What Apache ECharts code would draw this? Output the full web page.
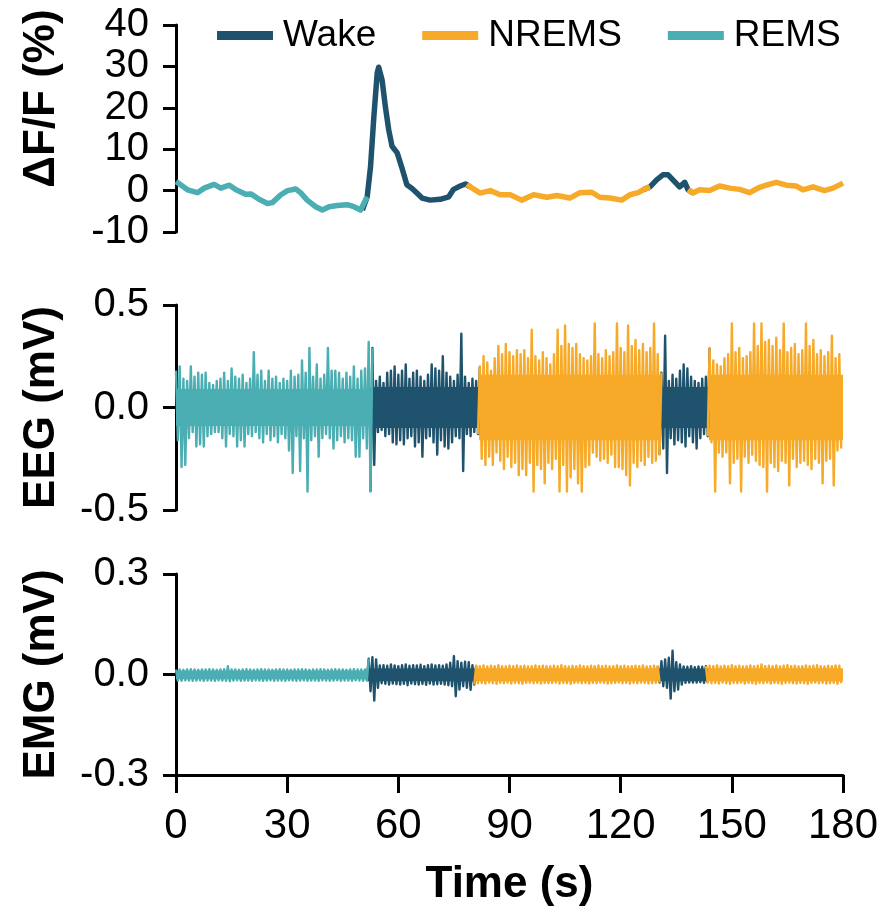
<!DOCTYPE html>
<html><head><meta charset="utf-8">
<script src="https://cdn.jsdelivr.net/npm/echarts@6/dist/echarts.min.js"></script>
<style>html,body{margin:0;padding:0;background:#fff}#c{width:884px;height:908px}</style>
</head><body><div id="c"></div>
<script>
// ---- Data ----
const stateNames = ['Wake', 'NREMS', 'REMS'];
const stateColors = {Wake: '#1f536d', NREMS: '#f7a928', REMS: '#4aaeb2'};
const xTicks = [0, 30, 60, 90, 120, 150, 180];

// ΔF/F (%) trace
const dffTime = [0,3.1,5.8,7.6,10.3,12.1,14.4,16.2,18.8,20.2,22.4,24.7,26.0,28.3,30.1,32.3,33.6,35.4,37.7,39.5,41.3,43.5,46.2,48.0,49.8,50.3,
  51.6,52.5,53.4,54.3,54.7,55.6,56.5,57.4,58.3,59.7,61.0,62.3,63.7,65.0,66.4,68.6,71.3,73.6,74.9,76.7,78.1,78.5,
  79.4,82.1,84.8,87.5,90.2,93.3,96.5,100.1,102.8,106.3,109.0,112.2,114.4,117.1,120.3,122.5,124.7,126.1,
  127.9,129.7,131.4,132.8,134.1,135.9,137.3,138.2,
  139.5,141.3,144.0,146.7,149.4,152.1,154.8,157.5,159.3,162.0,164.7,167.4,169.2,171.9,175.0,177.3,180.0];
const dffValue = [2.2,0.2,-0.5,0.6,1.5,0.6,1.3,0.2,-0.9,-0.8,-2.1,-3.1,-2.9,-1.0,0,0.4,-0.5,-2.3,-3.9,-4.7,-3.9,-3.6,-3.4,-3.9,-4.7,-4.7,
  -1.5,5.8,17.9,28.4,29.8,26.8,20.3,14.7,10.7,9.1,5.4,1.4,0.5,-0.6,-1.8,-2.3,-2.1,-1.5,0.3,1.1,1.6,1.5,
  0.9,-0.6,0,-1.0,-1.0,-2.3,-1.0,-1.6,-1.2,-1.8,-0.5,-0.4,-1.6,-1.8,-2.3,-1.0,-0.5,0.2,
  0.9,2.6,3.8,3.8,2.6,0.9,2.0,0.2,
  -0.6,0.2,0,1.1,0.6,0.3,-0.5,0.8,1.3,2.0,1.3,1.1,0.2,0.9,0,0.6,1.8];
const dffBounds = [50.3, 78.5, 126.1, 138.2];
const dffStates = ['REMS', 'Wake', 'NREMS', 'Wake', 'NREMS'];

// EEG (mV): per-second upper and lower excursions, t = 0..179 s
const eegHi = [0.18,0.20,0.14,0.13,0.20,0.15,0.17,0.16,0.17,0.12,0.11,0.13,0.14,0.17,0.13,0.19,0.15,0.14,0.16,0.12,
  0.14,0.27,0.16,0.18,0.13,0.18,0.14,0.15,0.12,0.14,0.13,0.18,0.15,0.16,0.23,0.17,0.29,0.15,0.21,0.14,
  0.16,0.29,0.18,0.18,0.17,0.14,0.17,0.15,0.20,0.14,0.18,0.19,0.32,0.29,0.13,0.15,0.12,0.17,0.18,0.20,
  0.16,0.18,0.21,0.14,0.17,0.18,0.15,0.13,0.16,0.21,0.19,0.18,0.25,0.17,0.15,0.13,0.16,0.36,0.15,0.12,
  0.14,0.13,0.20,0.25,0.22,0.18,0.24,0.30,0.26,0.31,0.27,0.25,0.28,0.26,0.28,0.24,0.38,0.25,0.23,0.27,
  0.24,0.21,0.26,0.38,0.30,0.40,0.31,0.29,0.31,0.26,0.24,0.23,0.25,0.41,0.26,0.24,0.28,0.25,0.27,0.41,
  0.29,0.27,0.40,0.30,0.33,0.28,0.31,0.27,0.29,0.41,0.26,0.17,0.35,0.13,0.16,0.14,0.18,0.21,0.19,0.15,
  0.13,0.12,0.14,0.15,0.29,0.23,0.21,0.20,0.24,0.26,0.41,0.27,0.29,0.24,0.25,0.27,0.41,0.30,0.41,0.32,
  0.33,0.30,0.34,0.28,0.41,0.27,0.29,0.31,0.26,0.28,0.41,0.30,0.33,0.26,0.28,0.25,0.27,0.35,0.24,0.26];
const eegLo = [-0.16,-0.29,-0.28,-0.15,-0.12,-0.19,-0.18,-0.19,-0.14,-0.13,-0.12,-0.12,-0.15,-0.19,-0.13,-0.14,-0.19,-0.16,-0.19,-0.13,
  -0.14,-0.12,-0.15,-0.17,-0.13,-0.16,-0.14,-0.17,-0.13,-0.15,-0.21,-0.32,-0.14,-0.31,-0.15,-0.41,-0.16,-0.14,-0.24,-0.15,
  -0.13,-0.15,-0.20,-0.16,-0.14,-0.17,-0.15,-0.16,-0.24,-0.24,-0.15,-0.20,-0.41,-0.28,-0.12,-0.11,-0.14,-0.13,-0.17,-0.18,
  -0.16,-0.18,-0.15,-0.14,-0.19,-0.17,-0.24,-0.15,-0.14,-0.17,-0.23,-0.16,-0.19,-0.20,-0.17,-0.14,-0.15,-0.31,-0.13,-0.14,
  -0.12,-0.13,-0.25,-0.28,-0.24,-0.28,-0.22,-0.26,-0.30,-0.24,-0.29,-0.27,-0.33,-0.30,-0.33,-0.27,-0.41,-0.28,-0.30,-0.37,
  -0.27,-0.30,-0.25,-0.41,-0.28,-0.41,-0.34,-0.30,-0.37,-0.41,-0.29,-0.28,-0.22,-0.24,-0.26,-0.25,-0.27,-0.23,-0.29,-0.29,
  -0.30,-0.33,-0.38,-0.27,-0.29,-0.26,-0.28,-0.24,-0.27,-0.26,-0.23,-0.20,-0.32,-0.15,-0.18,-0.16,-0.17,-0.19,-0.14,-0.17,
  -0.20,-0.15,-0.13,-0.14,-0.17,-0.41,-0.22,-0.24,-0.22,-0.37,-0.27,-0.25,-0.41,-0.24,-0.27,-0.23,-0.26,-0.28,-0.29,-0.41,
  -0.27,-0.29,-0.31,-0.26,-0.27,-0.38,-0.25,-0.29,-0.27,-0.26,-0.28,-0.30,-0.25,-0.27,-0.37,-0.26,-0.25,-0.38,-0.21,-0.20];
const eegBounds = [52.5, 81.8, 130.8, 143.8];

// EMG (mV): per-second upper and lower excursions, t = 0..179 s
const emgHi = [0.015,0.015,0.014,0.015,0.016,0.015,0.014,0.015,0.015,0.016,0.015,0.014,0.015,0.016,0.025,0.015,0.015,0.014,0.015,0.016,
  0.015,0.014,0.015,0.016,0.015,0.015,0.014,0.015,0.016,0.015,0.015,0.014,0.015,0.015,0.016,0.015,0.014,0.015,0.015,0.016,
  0.015,0.014,0.015,0.016,0.015,0.015,0.014,0.015,0.016,0.015,0.015,0.015,0.047,0.052,0.045,0.027,0.028,0.026,0.030,0.027,
  0.025,0.028,0.030,0.026,0.028,0.027,0.029,0.025,0.028,0.030,0.027,0.028,0.026,0.030,0.035,0.055,0.040,0.035,0.038,0.037,
  0.028,0.026,0.025,0.027,0.024,0.026,0.025,0.028,0.025,0.024,0.026,0.025,0.027,0.025,0.026,0.024,0.025,0.027,0.025,0.026,
  0.025,0.024,0.026,0.025,0.028,0.025,0.024,0.026,0.025,0.027,0.025,0.024,0.026,0.025,0.027,0.025,0.026,0.024,0.025,0.027,
  0.025,0.026,0.024,0.025,0.026,0.025,0.027,0.024,0.025,0.026,0.025,0.040,0.045,0.050,0.071,0.037,0.030,0.024,0.023,0.025,
  0.022,0.024,0.023,0.025,0.026,0.025,0.027,0.024,0.026,0.025,0.028,0.025,0.026,0.024,0.025,0.027,0.025,0.026,0.030,0.025,
  0.026,0.025,0.027,0.024,0.026,0.028,0.025,0.026,0.024,0.025,0.027,0.025,0.026,0.028,0.025,0.024,0.026,0.025,0.027,0.026];
const emgLo = [-0.018,-0.019,-0.017,-0.018,-0.019,-0.018,-0.017,-0.019,-0.018,-0.018,-0.019,-0.017,-0.018,-0.019,-0.020,-0.018,-0.017,-0.019,-0.018,-0.018,
  -0.019,-0.017,-0.018,-0.019,-0.018,-0.017,-0.019,-0.018,-0.018,-0.019,-0.017,-0.018,-0.019,-0.018,-0.017,-0.019,-0.018,-0.018,-0.019,-0.017,
  -0.018,-0.019,-0.018,-0.017,-0.019,-0.018,-0.018,-0.019,-0.017,-0.018,-0.019,-0.018,-0.050,-0.078,-0.040,-0.026,-0.028,-0.030,-0.027,-0.029,
  -0.030,-0.028,-0.032,-0.027,-0.029,-0.030,-0.028,-0.031,-0.027,-0.030,-0.029,-0.028,-0.030,-0.032,-0.035,-0.065,-0.045,-0.035,-0.040,-0.046,
  -0.030,-0.026,-0.025,-0.027,-0.024,-0.026,-0.028,-0.025,-0.026,-0.024,-0.027,-0.025,-0.026,-0.028,-0.025,-0.024,-0.026,-0.025,-0.027,-0.025,
  -0.026,-0.025,-0.024,-0.027,-0.025,-0.026,-0.028,-0.025,-0.024,-0.026,-0.025,-0.027,-0.025,-0.026,-0.024,-0.025,-0.027,-0.026,-0.025,-0.024,
  -0.026,-0.025,-0.027,-0.025,-0.026,-0.024,-0.025,-0.027,-0.026,-0.025,-0.024,-0.035,-0.040,-0.072,-0.050,-0.045,-0.030,-0.025,-0.024,-0.024,
  -0.024,-0.023,-0.025,-0.024,-0.026,-0.025,-0.027,-0.024,-0.026,-0.028,-0.025,-0.026,-0.024,-0.027,-0.025,-0.026,-0.028,-0.025,-0.026,-0.024,
  -0.027,-0.025,-0.026,-0.028,-0.025,-0.024,-0.026,-0.027,-0.025,-0.026,-0.028,-0.025,-0.024,-0.026,-0.025,-0.027,-0.026,-0.025,-0.028,-0.026];
const emgBounds = [51.6, 80.8, 130.3, 143.1];
const ephysStates = ['REMS', 'Wake', 'NREMS', 'Wake', 'NREMS'];

// Dense core band per state segment (mV)
const eegCoreHi = [0.09, 0.10, 0.16, 0.10, 0.16];
const eegCoreLo = [-0.09, -0.10, -0.16, -0.10, -0.16];
const emgCoreHi = [0.012, 0.018, 0.019, 0.018, 0.019];
const emgCoreLo = [-0.014, -0.020, -0.020, -0.020, -0.020];

// ---- Build ----
function zigzag(hi, lo) {
  const t = [], v = [];
  for (let i = 0; i < hi.length; i++) { t.push(i); v.push(hi[i]); t.push(i + 0.5); v.push(lo[i]); }
  return [t, v];
}
function splitStates(ts, vs, bounds, states) {
  const out = {Wake: [], NREMS: [], REMS: []};
  let seg = 0;
  for (let i = 0; i < ts.length; i++) {
    while (seg < bounds.length && ts[i] > bounds[seg]) {
      out[states[seg]].push([ts[i], vs[i]]);
      out[states[seg]].push([ts[i], null]);
      seg++;
      if (i > 0) out[states[seg]].push([ts[i - 1], vs[i - 1]]);
    }
    out[states[seg]].push([ts[i], vs[i]]);
  }
  return out;
}
const FONT = '"Liberation Sans", Arial, Helvetica, sans-serif';
const series = [];
function addSeries(parts, idx, width) {
  stateNames.forEach(n => {
    series.push({
      name: n, type: 'line', xAxisIndex: idx, yAxisIndex: idx, data: parts[n],
      symbol: 'none', showSymbol: false, connectNulls: false, animation: false, silent: true,
      clip: true, z: 2,
      itemStyle: {color: stateColors[n]},
      lineStyle: {color: stateColors[n], width: width, join: 'round', cap: 'butt'}
    });
  });
}
function addCore(idx, bounds, coreHi, coreLo) {
  const edges = [0].concat(bounds, [180]);
  ephysStates.forEach((s, k) => {
    series.push({
      name: s, type: 'line', xAxisIndex: idx, yAxisIndex: idx, symbol: 'none', silent: true, animation: false,
      data: [[edges[k], coreHi[k]], [edges[k + 1], coreHi[k]]],
      lineStyle: {width: 0, color: stateColors[s]}, itemStyle: {color: stateColors[s]},
      areaStyle: {color: stateColors[s], opacity: 1, origin: coreLo[k]}, z: 1
    });
  });
}
addSeries(splitStates(dffTime, dffValue, dffBounds, dffStates), 0, 5.5);
const eeg = zigzag(eegHi, eegLo);
addSeries(splitStates(eeg[0], eeg[1], eegBounds, ephysStates), 1, 2.4);
addCore(1, eegBounds, eegCoreHi, eegCoreLo);
const emg = zigzag(emgHi, emgLo);
addSeries(splitStates(emg[0], emg[1], emgBounds, ephysStates), 2, 2.4);
addCore(2, emgBounds, emgCoreHi, emgCoreLo);

const axisLineStyle = {color: '#000', width: 3};
function yAxis(idx, min, max, interval, name, dec, namePad) {
  return {
    type: 'value', gridIndex: idx, min: min, max: max, interval: interval,
    name: name, nameLocation: 'middle', nameGap: 112, nameRotate: 90,
    nameTextStyle: {fontFamily: FONT, fontWeight: 'bold', fontSize: 44, color: '#000', padding: namePad},
    axisLine: {show: true, onZero: false, lineStyle: axisLineStyle},
    axisTick: {show: true, inside: false, length: 13, lineStyle: axisLineStyle},
    axisLabel: {fontFamily: FONT, fontSize: 40, color: '#000', margin: 27,
      formatter: v => dec ? v.toFixed(dec) : String(v)},
    splitLine: {show: false}
  };
}
function xAxis(idx, show) {
  return {
    type: 'value', gridIndex: idx, min: 0, max: 180, interval: 30, show: show,
    name: show ? 'Time (s)' : '', nameLocation: 'middle', nameGap: 88,
    nameTextStyle: {fontFamily: FONT, fontWeight: 'bold', fontSize: 44, color: '#000'},
    axisLine: {show: true, onZero: false, lineStyle: axisLineStyle},
    axisTick: {show: true, inside: false, length: 18, lineStyle: axisLineStyle},
    axisLabel: {fontFamily: FONT, fontSize: 42, color: '#000', margin: 30},
    splitLine: {show: false}
  };
}
const chart = echarts.init(document.getElementById('c'), null, {renderer: 'canvas'});
chart.setOption({
  backgroundColor: '#fff',
  animation: false,
  legend: {
    data: stateNames, left: 212, top: 12, icon: 'rect', itemWidth: 56, itemHeight: 9, itemGap: 46,
    textStyle: {fontFamily: FONT, fontSize: 37, color: '#000', padding: [0, 0, 0, 5]}
  },
  grid: [
    {left: 176, width: 667, top: 25, height: 207},
    {left: 176, width: 667, top: 305, height: 205},
    {left: 176, width: 667, top: 574, height: 206}
  ],
  xAxis: [xAxis(0, false), xAxis(1, false), xAxis(2, true)],
  yAxis: [
    yAxis(0, -10, 40, 10, 'ΔF/F (%)', 0, [0, 0, 0, 60]),
    yAxis(1, -0.5, 0.5, 0.5, 'EEG (mV)', 1, 0),
    yAxis(2, -0.3, 0.3, 0.3, 'EMG (mV)', 1, 0)
  ],
  series: series
});
</script></body></html>
